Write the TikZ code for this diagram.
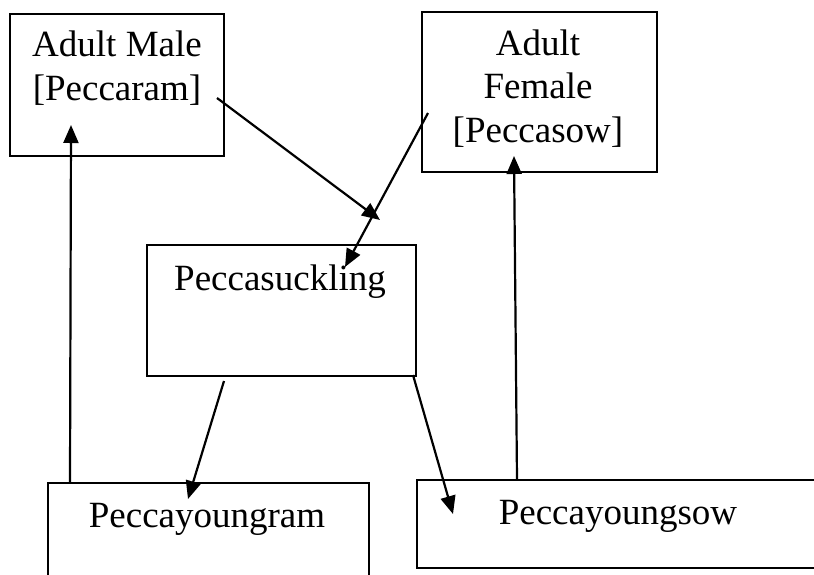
\documentclass[tikz,border=0pt]{standalone}
\usepackage{fontspec}
\setmainfont{Liberation Serif}
\usetikzlibrary{arrows.meta}
\begin{document}
\begin{tikzpicture}[x=1pt,y=-1pt,
 box/.style={draw, line width=2.2pt, inner sep=0pt, anchor=north west},
 lbl/.style={font=\fontsize{37}{43.5}\selectfont, align=center, anchor=base, inner sep=0pt},
 arr/.style={line width=2.2pt, -{Triangle[length=18pt,width=15pt]}}]
\useasboundingbox (0,0) rectangle (814,574);
\clip (0,0) rectangle (814,574);
\fill[white] (0,0) rectangle (814,574);
% boxes
\node[box, minimum width=214pt, minimum height=142pt] (male) at (9,13) {};
\node[box, minimum width=235pt, minimum height=160pt] (female) at (421,11) {};
\node[box, minimum width=269pt, minimum height=131pt] (suck) at (146,244) {};
\node[box, minimum width=321pt, minimum height=120pt] (ram) at (47,482) {};
\node[box, minimum width=420pt, minimum height=88pt] (sow) at (416,479) {};
% labels (base = last line's baseline)
\node[lbl] (tmale) at (117,100) {Adult Male\\{[Peccaram]}};
\node[lbl] (tfemale) at (538,142) {Adult\\Female\\{[Peccasow]}};
\node[lbl] (tsuck) at (280,290) {Peccasuckling};
\node[lbl] (tram) at (207,527) {Peccayoungram};
\node[lbl] (tsow) at (618,524) {Peccayoungsow};
% connector end points
\coordinate (a1s) at (70,482);  \coordinate (a1e) at (71,125);
\coordinate (a2s) at (217,98);  \coordinate (a2e) at (380,220);
\coordinate (a3s) at (428,113); \coordinate (a3e) at (345,267);
\coordinate (a4s) at (224,381); \coordinate (a4e) at (188,499);
\coordinate (a5s) at (413,375); \coordinate (a5e) at (453,514);
\coordinate (a6s) at (517,479); \coordinate (a6e) at (514,156);
\draw[arr] (a1s) -- (a1e);
\draw[arr] (a2s) -- (a2e);
\draw[arr] (a3s) -- (a3e);
\draw[arr] (a4s) -- (a4e);
\draw[arr] (a5s) -- (a5e);
\draw[arr] (a6s) -- (a6e);
\end{tikzpicture}
\end{document}
